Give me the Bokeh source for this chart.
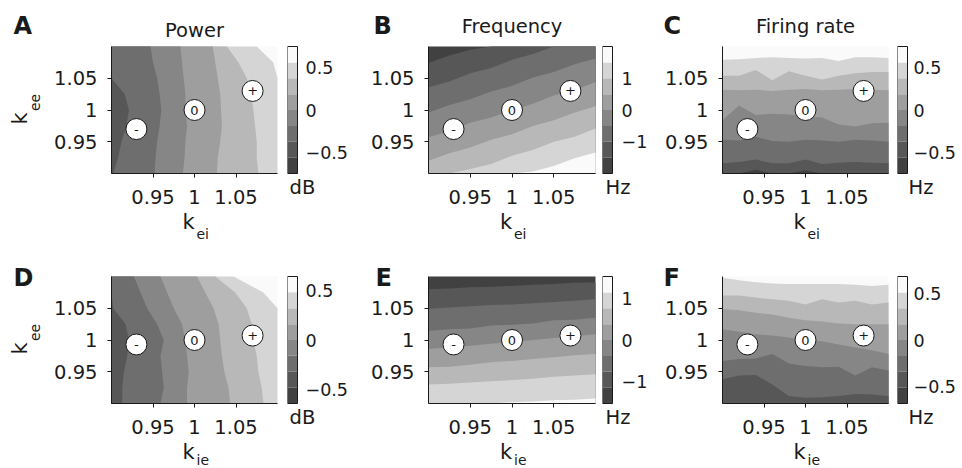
import math
from bokeh.plotting import figure
from bokeh.models import FixedTicker, Label, Range1d
from bokeh.layouts import row, column
from bokeh.embed import file_html
from bokeh.resources import INLINE
from bokeh.core.properties import value

FONT = "DejaVu Sans"
INK = "#1a1a1a"
# 8 grey bands of the colour maps, darkest to lightest
GRAYS = ["#414141", "#575757", "#6e6e6e", "#868686", "#9e9e9e", "#b8b8b8", "#d5d5d5", "#fafafa"]

# shared coupling axes
K_LIM = [0.9, 1.1]
K_TICKS = [0.95, 1.0, 1.05]
K_TICK_TEXT = ["0.95", "1", "1.05"]

# reference markers
MARK_X = [0.93, 1.0, 1.07]
MARK_Y_TOP = [0.97, 1.0, 1.03]
MARK_Y_BOT = [0.993, 1.0, 1.007]
MARK_TEXT = ["-", "0", "+"]

# ---- A: Power vs k_ei (band edges: k_ei at each k_ee) ----
A_kee = [1.1, 1.075, 1.05, 1.025, 1.0, 0.975, 0.95, 0.925, 0.9]
A_b1 = [0.885, 0.893, 0.900, 0.916, 0.921, 0.918, 0.912, 0.908, 0.902]
A_b2 = [0.947, 0.950, 0.955, 0.958, 0.960, 0.958, 0.955, 0.953, 0.952]
A_b3 = [0.983, 0.985, 0.987, 0.989, 0.989, 0.991, 0.989, 0.988, 0.986]
A_b4 = [1.022, 1.025, 1.028, 1.031, 1.032, 1.033, 1.031, 1.028, 1.027]
A_b5 = [1.039, 1.053, 1.063, 1.068, 1.071, 1.073, 1.075, 1.075, 1.077]
A_b6 = [1.075, 1.095, 1.112, 1.130, 1.140, 1.140, 1.140, 1.140, 1.140]
A_levels = [-0.74, -0.555, -0.37, -0.185, 0, 0.185, 0.37, 0.555, 0.74]

# ---- B: Frequency vs k_ei (band edges: k_ee at each k_ei) ----
B_kei = [0.9, 0.925, 0.95, 0.975, 1.0, 1.025, 1.05, 1.075, 1.1]
B_m15 = [1.074, 1.086, 1.095, 1.108, 1.117, 1.128, 1.139, 1.149, 1.160]
B_m10 = [1.036, 1.045, 1.058, 1.066, 1.079, 1.088, 1.101, 1.109, 1.121]
B_m05 = [0.996, 1.008, 1.017, 1.029, 1.038, 1.051, 1.060, 1.072, 1.081]
B_0 = [0.957, 0.967, 0.980, 0.988, 1.000, 1.010, 1.023, 1.031, 1.044]
B_05 = [0.920, 0.932, 0.941, 0.953, 0.962, 0.975, 0.984, 0.996, 1.006]
B_10 = [0.884, 0.894, 0.907, 0.915, 0.928, 0.937, 0.950, 0.958, 0.971]
B_15 = [0.848, 0.860, 0.869, 0.881, 0.890, 0.903, 0.912, 0.924, 0.933]
B_levels = [-2, -1.5, -1, -0.5, 0, 0.5, 1, 1.5, 2]

# ---- C: Firing rate vs k_ei ----
C_kei = [0.9, 0.92, 0.94, 0.96, 0.98, 1.0, 1.02, 1.04, 1.06, 1.08, 1.1]
C_b7 = [1.079, 1.080, 1.082, 1.083, 1.082, 1.081, 1.082, 1.077, 1.083, 1.083, 1.082]
C_b6 = [1.054, 1.054, 1.063, 1.047, 1.061, 1.054, 1.048, 1.054, 1.058, 1.060, 1.060]
C_b5 = [1.032, 1.031, 1.032, 1.030, 1.032, 1.033, 1.031, 1.032, 1.033, 1.032, 1.031]
C_b4 = [0.984, 1.007, 0.992, 0.994, 0.993, 0.990, 0.988, 0.977, 0.974, 0.979, 0.980]
C_b3 = [0.953, 0.952, 0.958, 0.951, 0.950, 0.953, 0.952, 0.950, 0.953, 0.952, 0.950]
C_b2 = [0.916, 0.918, 0.922, 0.916, 0.916, 0.922, 0.915, 0.917, 0.918, 0.917, 0.916]
C_b1 = [0.890, 0.895, 0.906, 0.895, 0.890, 0.905, 0.890, 0.890, 0.890, 0.890, 0.890]
C_levels = [-0.74, -0.555, -0.37, -0.185, 0, 0.185, 0.37, 0.555, 0.74]

# ---- D: Power vs k_ie ----
D_kee = [1.1, 1.075, 1.05, 1.025, 1.0, 0.975, 0.95, 0.925, 0.9]
D_b2 = [0.880, 0.890, 0.902, 0.917, 0.921, 0.919, 0.915, 0.913, 0.913]
D_b3 = [0.927, 0.935, 0.943, 0.955, 0.963, 0.959, 0.961, 0.963, 0.959]
D_b4 = [0.959, 0.967, 0.975, 0.985, 0.989, 0.991, 0.993, 0.991, 0.991]
D_b5 = [1.003, 1.013, 1.023, 1.029, 1.031, 1.033, 1.036, 1.041, 1.043]
D_b6 = [1.025, 1.049, 1.063, 1.069, 1.071, 1.075, 1.077, 1.081, 1.083]
D_b7 = [1.047, 1.083, 1.100, 1.130, 1.140, 1.140, 1.140, 1.140, 1.140]
D_levels = [-0.645, -0.484, -0.323, -0.161, 0, 0.161, 0.323, 0.484, 0.645]

# ---- E: Frequency vs k_ie ----
E_kie = [0.9, 0.925, 0.95, 0.975, 1.0, 1.025, 1.05, 1.075, 1.1]
E_m114 = [1.080, 1.081, 1.083, 1.084, 1.085, 1.087, 1.088, 1.090, 1.091]
E_m076 = [1.049, 1.051, 1.053, 1.055, 1.056, 1.058, 1.060, 1.062, 1.064]
E_m038 = [1.014, 1.017, 1.018, 1.023, 1.024, 1.026, 1.031, 1.032, 1.035]
E_0 = [0.986, 0.988, 0.991, 0.994, 0.997, 1.000, 1.003, 1.006, 1.009]
E_038 = [0.957, 0.958, 0.961, 0.965, 0.967, 0.970, 0.973, 0.976, 0.978]
E_076 = [0.930, 0.931, 0.933, 0.935, 0.937, 0.939, 0.942, 0.944, 0.946]
E_114 = [0.895, 0.896, 0.898, 0.900, 0.902, 0.903, 0.905, 0.906, 0.908]
E_levels = [-1.52, -1.14, -0.76, -0.38, 0, 0.38, 0.76, 1.14, 1.52]

# ---- F: Firing rate vs k_ie ----
F_kie = [0.9, 0.92, 0.94, 0.96, 0.98, 1.0, 1.02, 1.04, 1.06, 1.08, 1.1]
F_b7 = [1.098, 1.094, 1.091, 1.089, 1.088, 1.088, 1.088, 1.088, 1.087, 1.085, 1.087]
F_b6 = [1.070, 1.070, 1.067, 1.064, 1.062, 1.056, 1.064, 1.059, 1.062, 1.056, 1.059]
F_b5 = [1.049, 1.047, 1.043, 1.040, 1.035, 1.031, 1.029, 1.026, 1.025, 1.025, 1.025]
F_b4 = [1.017, 1.013, 1.009, 1.007, 1.004, 1.000, 0.998, 0.993, 0.988, 0.984, 0.978]
F_b3 = [0.967, 0.970, 0.971, 0.978, 0.963, 0.959, 0.957, 0.958, 0.944, 0.957, 0.952]
F_b2 = [0.938, 0.944, 0.945, 0.930, 0.912, 0.909, 0.910, 0.912, 0.915, 0.914, 0.912]
F_levels = [-0.68, -0.51, -0.34, -0.17, 0, 0.17, 0.34, 0.51, 0.68]

CB_TICKS_HALF = [-0.5, 0, 0.5]
CB_TEXT_HALF = ["\u22120.5", "0", "0.5"]
CB_TICKS_ONE = [-1, 0, 1]
CB_TEXT_ONE = ["\u22121", "0", "1"]

# ---- page geometry (pixels) ----
ROW1_H, ROW1_TOP = 244, 46
ROW2_H, ROW2_TOP = 224, 32
FRAME_H = 127
# (figure width, frame left, frame right) for each column
COL_GEOM = [(287, 111, 277), (242, 68, 235), (237, 62, 228)]
CB_W = [73, 58, 63]


def label(p, x, y, text, dx, dy, size, align="left", baseline="alphabetic", bold=False, angle=0.0):
    p.add_layout(Label(x=x, y=y, x_offset=dx, y_offset=dy, text=text, text_font=FONT,
                       text_font_size=size, text_align=align, text_baseline=baseline,
                       text_font_style="bold" if bold else "normal", text_color=INK, angle=angle))


def inbox(b):
    return [min(max(v, K_LIM[0]), K_LIM[1]) for v in b]


def panel(col, height, top, orient, samples, bounds, regions, mark_y):
    width, fl, fr = COL_GEOM[col]
    ux = (K_LIM[1] - K_LIM[0]) / (fr - fl)
    uy = (K_LIM[1] - K_LIM[0]) / FRAME_H
    bot = top + FRAME_H
    p = figure(width=width, height=height,
               x_range=Range1d(K_LIM[0] - fl * ux, K_LIM[0] + (width - fl) * ux),
               y_range=Range1d(K_LIM[0] - (height - bot) * uy, K_LIM[1] + top * uy),
               min_border=0, toolbar_location=None, output_backend="svg")
    p.background_fill_color = "white"
    p.border_fill_color = "white"
    p.outline_line_color = None
    p.grid.visible = False
    p.quad(left=K_LIM[0], right=K_LIM[1], bottom=K_LIM[0], top=K_LIM[1],
           fill_color=GRAYS[regions[0]], line_color=None)
    for b, r in zip(bounds, regions[1:]):
        if orient == "h":
            p.varea(x=samples, y1=K_LIM[0], y2=inbox(b), fill_color=GRAYS[r])
        else:
            p.harea(y=samples, x1=K_LIM[0], x2=inbox(b), fill_color=GRAYS[r])
    for ax in (p.xaxis[0], p.yaxis[0]):
        ax.fixed_location = K_LIM[0]
        ax.bounds = (K_LIM[0], K_LIM[1])
        ax.ticker = FixedTicker(ticks=K_TICKS)
        ax.major_label_overrides = dict(zip(K_TICKS, K_TICK_TEXT))
        ax.major_tick_in = 0
        ax.major_tick_out = 4
        ax.minor_tick_line_color = None
        ax.axis_line_color = INK
        ax.major_tick_line_color = INK
        ax.major_label_text_font = FONT
        ax.major_label_text_font_size = "19.5px"
        ax.major_label_text_color = INK
    p.yaxis.major_label_standoff = 10
    p.xaxis.major_label_standoff = 12
    p.scatter(MARK_X, mark_y, size=21, fill_color="white", line_color=INK, line_width=1)
    p.text(MARK_X, mark_y, text=MARK_TEXT, text_align="center", text_baseline="middle",
           text_font=value(FONT), text_font_size="13px", text_color=INK)
    return p


def colorbar(col, height, top, levels, ticks, ticktext, standoff, unit, unit_dx):
    width = CB_W[col]
    bot = top + FRAME_H
    u = (levels[-1] - levels[0]) / FRAME_H
    c = figure(width=width, height=height, x_range=Range1d(0, width / 10),
               y_range=Range1d(levels[0] - (height - bot) * u, levels[-1] + top * u),
               min_border=0, x_axis_location=None, y_axis_location="right",
               toolbar_location=None, output_backend="svg")
    c.background_fill_color = "white"
    c.border_fill_color = "white"
    c.outline_line_color = None
    c.grid.visible = False
    c.quad(left=0, right=1, bottom=levels[:-1], top=levels[1:], fill_color=GRAYS, line_color=None)
    c.quad(left=0, right=1, bottom=levels[0], top=levels[-1], fill_color=None,
           line_color=INK, line_width=1)
    ax = c.yaxis[0]
    ax.fixed_location = 1
    ax.ticker = FixedTicker(ticks=ticks)
    ax.major_label_overrides = dict(zip(ticks, ticktext))
    ax.major_tick_in = 0
    ax.major_tick_out = 0
    ax.minor_tick_line_color = None
    ax.axis_line_color = None
    ax.major_tick_line_color = None
    ax.major_label_standoff = standoff
    ax.major_label_text_font = FONT
    ax.major_label_text_font_size = "17.5px"
    ax.major_label_text_color = INK
    label(c, 0, levels[0], unit, unit_dx, -13.5, "19.5px")
    return c


pA = panel(0, ROW1_H, ROW1_TOP, "v", A_kee, [A_b6, A_b5, A_b4, A_b3, A_b2, A_b1], [7, 6, 5, 4, 3, 2, 1], MARK_Y_TOP)
pB = panel(1, ROW1_H, ROW1_TOP, "h", B_kei, [B_m15, B_m10, B_m05, B_0, B_05, B_10, B_15], [0, 1, 2, 3, 4, 5, 6, 7], MARK_Y_TOP)
pC = panel(2, ROW1_H, ROW1_TOP, "h", C_kei, [C_b7, C_b6, C_b5, C_b4, C_b3, C_b2, C_b1], [7, 6, 5, 4, 3, 2, 1, 0], MARK_Y_TOP)
pD = panel(0, ROW2_H, ROW2_TOP, "v", D_kee, [D_b7, D_b6, D_b5, D_b4, D_b3, D_b2], [7, 6, 5, 4, 3, 2, 1], MARK_Y_BOT)
pE = panel(1, ROW2_H, ROW2_TOP, "h", E_kie, [E_m114, E_m076, E_m038, E_0, E_038, E_076, E_114], [0, 1, 2, 3, 4, 5, 6, 7], MARK_Y_BOT)
pF = panel(2, ROW2_H, ROW2_TOP, "h", F_kie, [F_b7, F_b6, F_b5, F_b4, F_b3, F_b2], [7, 6, 5, 4, 3, 2, 1], MARK_Y_BOT)

cA = colorbar(0, ROW1_H, ROW1_TOP, A_levels, CB_TICKS_HALF, CB_TEXT_HALF, 8, "dB", 2)
cB = colorbar(1, ROW1_H, ROW1_TOP, B_levels, CB_TICKS_ONE, CB_TEXT_ONE, 9, "Hz", 3)
cC = colorbar(2, ROW1_H, ROW1_TOP, C_levels, CB_TICKS_HALF, CB_TEXT_HALF, 6, "Hz", 11)
cD = colorbar(0, ROW2_H, ROW2_TOP, D_levels, CB_TICKS_HALF, CB_TEXT_HALF, 8, "dB", 2)
cE = colorbar(1, ROW2_H, ROW2_TOP, E_levels, CB_TICKS_ONE, CB_TEXT_ONE, 9, "Hz", 3)
cF = colorbar(2, ROW2_H, ROW2_TOP, F_levels, CB_TICKS_HALF, CB_TEXT_HALF, 6, "Hz", 11)

# panel letters, titles, axis labels
for p, letter, dx, dy in [(pA, "A", -98, 21), (pB, "B", -55, 21), (pC, "C", -59, 21),
                          (pD, "D", -98, -1), (pE, "E", -53, -1), (pF, "F", -59, -1)]:
    label(p, K_LIM[0], K_LIM[1], letter, dx, dy, "24px", bold=True)

for p, title, dy in [(pA, "Power", 16.5), (pB, "Frequency", 20.5), (pC, "Firing rate", 20.5)]:
    label(p, 1.0, K_LIM[1], title, 0, dy, "19.5px", align="center")

for p, sub, dk, ds in [(pA, "ei", -48, -60), (pB, "ei", -48, -60), (pC, "ei", -48, -60),
                       (pD, "ie", -48, -56), (pE, "ie", -48, -56), (pF, "ie", -48, -56)]:
    label(p, 1.0, K_LIM[0], "k", -12, dk, "21px")
    label(p, 1.0, K_LIM[0], sub, 2, ds, "14px")

for p in (pA, pD):
    label(p, K_LIM[0], 1.0, "k", -92, -8.5, "21px", align="center", angle=math.pi / 2)
    label(p, K_LIM[0], 1.0, "ee", -76.5, 7.5, "14px", align="center", angle=math.pi / 2)

layout = column(row(pA, cA, pB, cB, pC, cC), row(pD, cD, pE, cE, pF, cF))

with open("out.html", "w") as f:
    f.write(file_html(layout, INLINE))
